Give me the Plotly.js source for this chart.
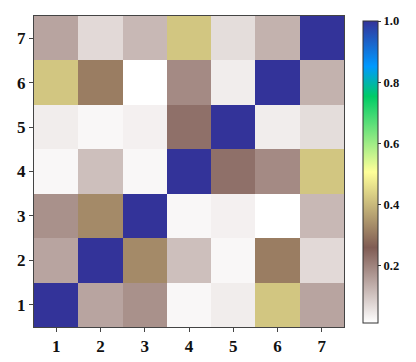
<!DOCTYPE html>
<html>
<head>
<meta charset="utf-8">
<script src="https://cdn.plot.ly/plotly-3.0.1.min.js"></script>
<style>html,body{margin:0;padding:0;background:#fff;}#chart{width:416px;height:362px;}</style>
</head>
<body>
<div id="chart"></div>
<script>
var xLabels = [1, 2, 3, 4, 5, 6, 7];
var yLabels = [1, 2, 3, 4, 5, 6, 7];
var row1 = [1.00, 0.15, 0.18, 0.025, 0.04, 0.42, 0.15];
var row2 = [0.15, 1.00, 0.33, 0.11, 0.025, 0.31, 0.07];
var row3 = [0.18, 0.33, 1.00, 0.025, 0.035, 0.013, 0.12];
var row4 = [0.025, 0.11, 0.025, 1.00, 0.23, 0.19, 0.42];
var row5 = [0.04, 0.025, 0.035, 0.23, 1.00, 0.04, 0.065];
var row6 = [0.42, 0.31, 0.013, 0.19, 0.04, 1.00, 0.13];
var row7 = [0.15, 0.07, 0.12, 0.42, 0.065, 0.13, 1.00];
var cbTicks = [0.2, 0.4, 0.6, 0.8, 1.0];
var cbTickText = ['0.2', '0.4', '0.6', '0.8', '1.0'];

var terrainR = [
  [0.00, 'rgb(255,255,255)'],
  [0.25, 'rgb(128,92,84)'],
  [0.50, 'rgb(255,255,153)'],
  [0.75, 'rgb(0,204,102)'],
  [0.85, 'rgb(0,153,255)'],
  [1.00, 'rgb(51,51,153)']
];

var serif = 'Liberation Serif, Times New Roman, serif';

var trace = {
  type: 'heatmap',
  x: xLabels,
  y: yLabels,
  z: [row1, row2, row3, row4, row5, row6, row7],
  zmin: 0.013,
  zmax: 1.0,
  colorscale: terrainR,
  colorbar: {
    x: 1.061, xanchor: 'left', xpad: 0,
    y: 0.498, yanchor: 'middle', ypad: 0,
    len: 0.971, lenmode: 'fraction',
    thickness: 15,
    outlinewidth: 1, outlinecolor: '#333',
    tickvals: cbTicks, ticktext: cbTickText,
    ticks: 'outside', ticklen: 3, tickcolor: '#333',
    tickfont: {family: serif, size: 12.5, color: '#111', weight: 'bold'}
  },
  hoverinfo: 'z'
};

var layout = {
  width: 416, height: 362,
  margin: {l: 34, r: 72, t: 16, b: 35},
  paper_bgcolor: '#fff', plot_bgcolor: '#fff',
  xaxis: {
    tickvals: xLabels, ticktext: xLabels.map(String),
    range: [0.5, 7.5],
    showline: true, mirror: true, linecolor: '#444', linewidth: 1,
    ticks: 'outside', ticklen: 4, tickcolor: '#444',
    showgrid: false, zeroline: false,
    tickfont: {family: serif, size: 17, color: '#111', weight: 'bold'}
  },
  yaxis: {
    tickvals: yLabels, ticktext: yLabels.map(String),
    range: [0.5, 7.5],
    showline: true, mirror: true, linecolor: '#444', linewidth: 1,
    ticks: 'outside', ticklen: 4, tickcolor: '#444',
    showgrid: false, zeroline: false,
    tickfont: {family: serif, size: 17, color: '#111', weight: 'bold'}
  }
};

Plotly.newPlot('chart', [trace], layout, {displayModeBar: false, staticPlot: true});
</script>
</body>
</html>
